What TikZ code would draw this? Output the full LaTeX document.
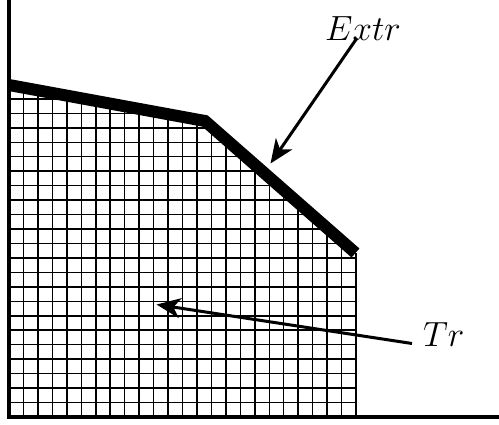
\RequirePackage{fix-cm}
\documentclass[tikz,border=0pt]{standalone}
\usetikzlibrary{arrows.meta}
\begin{document}
\begin{tikzpicture}[x=1pt,y=-1pt,
  axisline/.style={line width=3.2pt},
  gridline/.style={line width=1.5pt},
  bound/.style={line width=12pt,line join=miter},
  pointer/.style={line width=3pt,-{Stealth[length=24pt,width=20pt,inset=7pt]}},
  lbl/.style={font=\fontsize{35}{40}\selectfont,inner sep=0pt}]
\useasboundingbox (0,0) rectangle (499,424);
% grid region
\begin{scope}
\clip (9,85) -- (205,121) -- (355.5,253) -- (355.5,417) -- (9,417) -- cycle;
\foreach \i in {0,...,24} {
  \draw[gridline] ({9+14.46*\i},0) -- ({9+14.46*\i},420);
}
\foreach \j in {0,...,24} {
  \draw[gridline] (0,{417-14.46*\j}) -- (360,{417-14.46*\j});
}
\end{scope}
\draw[line width=2pt] (355.5,253) -- (355.5,417);
% axes
\coordinate (o) at (9,417);
\coordinate (ytop) at (9,0);
\coordinate (xend) at (499,417);
\draw[axisline] (ytop) -- (o) -- (xend);
% thick boundary
\coordinate (b1) at (9,85);
\coordinate (b2) at (205,121);
\coordinate (b3) at (355.5,253);
\draw[bound] (b1) -- (b2) -- (b3);
% labels
\node[lbl,anchor=base west] (extr) at (325,40) {$Extr$};
\node[lbl,anchor=base west] (tr) at (423,346) {$Tr$};
\coordinate (extrstart) at (357,38);
\coordinate (extrend) at (270.5,163.5);
\coordinate (trstart) at (412,343.5);
\coordinate (trend) at (156.5,304.5);
\draw[pointer] (extrstart) -- (extrend);
\draw[pointer] (trstart) -- (trend);
\end{tikzpicture}
\end{document}
